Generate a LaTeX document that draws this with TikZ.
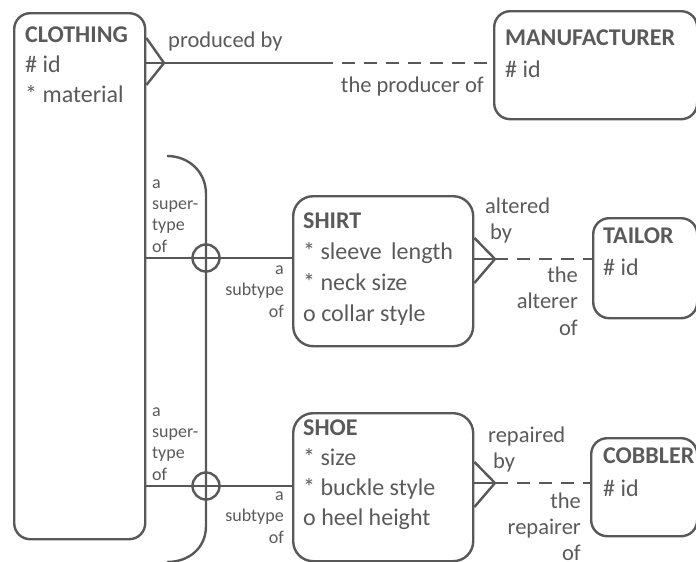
\documentclass[tikz,border=0pt]{standalone}
\usepackage{fontspec}
\setmainfont{Carlito}
\usetikzlibrary{calc}
\definecolor{ink}{HTML}{5A5A5A}
\definecolor{edge}{HTML}{585858}
\begin{document}
\begin{tikzpicture}[x=1pt,y=-1pt,
  entity/.style={draw=edge, line width=2.4pt, rounded corners=16pt, inner sep=0pt, anchor=north west},
  % multi-line nodes are placed by the baseline of their last line
  attrs/.style={text=ink, inner sep=0pt, anchor=base west, align=left},
  link/.style={draw=edge, line width=2.4pt},
  optional/.style={link, dash pattern=on 13pt off 9pt},
  role/.style={text=ink, inner sep=0pt, font=\fontsize{22.5}{26}\selectfont},
  subrole/.style={text=ink, inner sep=0pt, font=\fontsize{18}{21.3}\selectfont}
]
\useasboundingbox (0,0) rectangle (696,562);

% entities
\node[entity, minimum width=131pt, minimum height=526pt] (clothing) at (13,12) {};
\node[entity, minimum width=203pt, minimum height=108pt] (manufacturer) at (493,10) {};
\node[entity, minimum width=180pt, minimum height=150pt, rounded corners=20pt] (shirt) at (292,195) {};
\node[entity, minimum width=104pt, minimum height=100pt] (tailor) at (592,217) {};
\node[entity, minimum width=180pt, minimum height=148pt, rounded corners=20pt] (shoe) at (292,412) {};
\node[entity, minimum width=106pt, minimum height=98pt] (cobbler) at (590,437) {};

% entity contents
\node[attrs, font=\fontsize{24}{30}\selectfont] (clothing-t) at (25,102)
  {\textbf{CLOTHING}\\\# id\\* material};
\node[attrs, font=\fontsize{24}{32}\selectfont] (manufacturer-t) at (505,77)
  {\textbf{MANUFACTURER}\\\# id};
\node[attrs, font=\fontsize{24}{30.7}\selectfont] (shirt-t) at (303,321)
  {\textbf{SHIRT}\\* sleeve\hspace{4pt} length\\* neck size\\o collar style};
\node[attrs, font=\fontsize{24}{32}\selectfont] (tailor-t) at (603,275)
  {\textbf{TAILOR}\\\# id};
\node[attrs, font=\fontsize{24}{30}\selectfont] (shoe-t) at (303,525)
  {\textbf{SHOE}\\* size\\* buckle style\\o heel height};
\node[attrs, font=\fontsize{24}{33}\selectfont] (cobbler-t) at (603,496)
  {\textbf{COBBLER}\\\# id};

% CLOTHING -- MANUFACTURER
\coordinate (pf) at (164,63);
\coordinate (pm) at (320,63);
\draw[link] (clothing.east |- pf) -- (pf) -- (pm);
\draw[link] ($(clothing.east |- pf)+(0,-25)$) -- (pf) -- ($(clothing.east |- pf)+(0,22)$);
\draw[optional] (pm) -- (manufacturer.west |- pm);
\node[role, anchor=base west] (prod) at (168,47) {produced by};
\node[role, anchor=base east] (producer) at (484,92) {the producer of};

% supertype bracket
\coordinate (bt) at (167,156);
\coordinate (bb) at (167,562);
\draw[link] (bt) .. controls (189,156) and (206,172) .. (206,194)
  -- (206,526) .. controls (206,548) and (189,562) .. (bb);

% CLOTHING -- SHIRT subtype link
\coordinate (sx) at (206,258);
\draw[link] (clothing.east |- sx) -- (shirt.west |- sx);
\draw[link] (sx) circle[radius=13.5pt];
\node[subrole, anchor=base west, align=left] (shirt-sup) at (152,252) {a\\super-\\type\\of};
\node[subrole, anchor=base east, align=right] (shirt-sub) at (284,317) {a\\subtype\\of};

% CLOTHING -- SHOE subtype link
\coordinate (hx) at (206,486);
\draw[link] (clothing.east |- hx) -- (shoe.west |- hx);
\draw[link] (hx) circle[radius=13.5pt];
\node[subrole, anchor=base west, align=left] (shoe-sup) at (152,480) {a\\super-\\type\\of};
\node[subrole, anchor=base east, align=right] (shoe-sub) at (284,543) {a\\subtype\\of};

% SHIRT -- TAILOR
\coordinate (tf) at (495,259);
\draw[link] (shirt.east |- tf) -- (tf);
\draw[link] ($(shirt.east |- tf)+(0,-21)$) -- (tf) -- ($(shirt.east |- tf)+(0,24)$);
\draw[optional] (tf) -- (tailor.west |- tf);
\node[role, anchor=base west, align=left] (altered) at (485,239) {altered\\\hspace{5pt}by};
\node[role, anchor=base east, align=right, font=\fontsize{22.5}{26.5}\selectfont] (alterer) at (578,335) {the\\alterer\\of};

% SHOE -- COBBLER
\coordinate (cf) at (495,483);
\draw[link] (shoe.east |- cf) -- (cf);
\draw[link] ($(shoe.east |- cf)+(0,-21)$) -- (cf) -- ($(shoe.east |- cf)+(0,24)$);
\draw[optional] (cf) -- (cobbler.west |- cf);
\node[role, anchor=base west, align=left] (repaired) at (488,468) {repaired\\\hspace{5pt}by};
\node[role, anchor=base east, align=right] (repairer) at (581,560) {the\\repairer\\of};
\end{tikzpicture}
\end{document}
